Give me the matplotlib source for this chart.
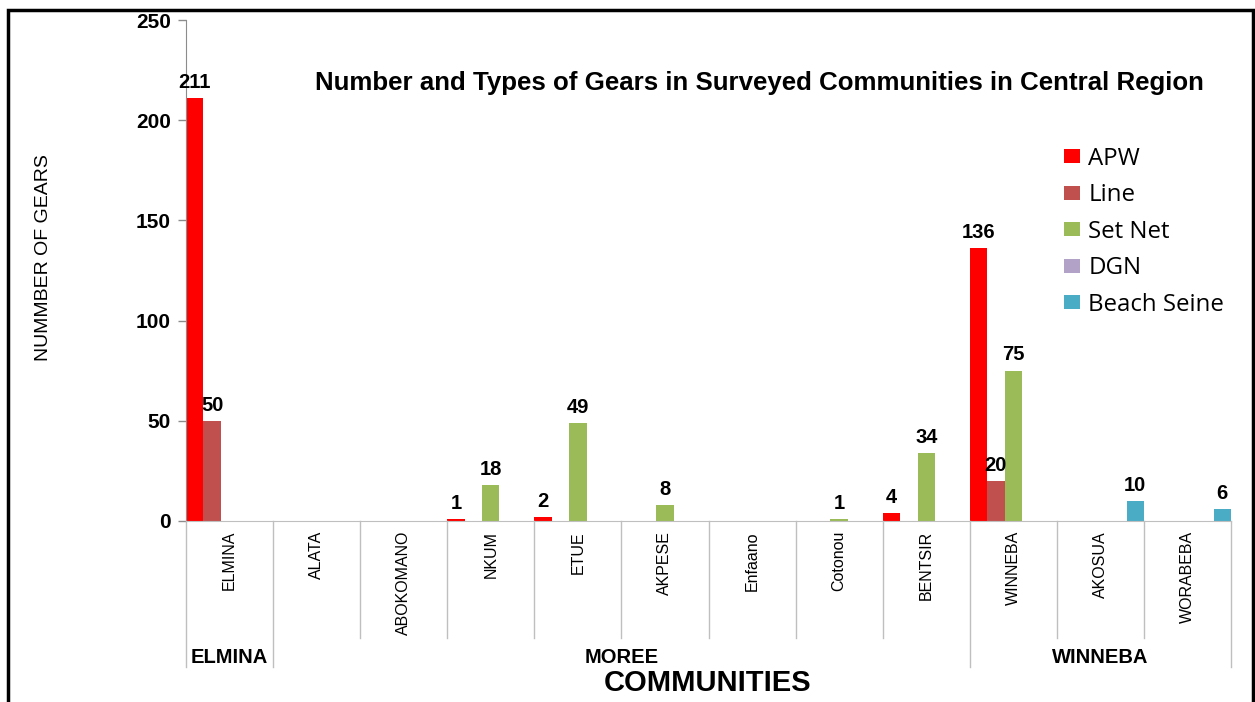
from matplotlib import pyplot as plt
from matplotlib.patches import Rectangle
from numpy import arange

# datos
communities = ['ELMINA', 'ALATA', 'ABOKOMANO', 'NKUM', 'ETUE', 'AKPESE',
               'Enfaano', 'Cotonou', 'BENTSIR', 'WINNEBA', 'AKOSUA', 'WORABEBA']
apw = [211, 0, 0, 1, 2, 0, 0, 0, 4, 136, 0, 0]
line = [50, 0, 0, 0, 0, 0, 0, 0, 0, 20, 0, 0]
set_net = [0, 0, 0, 18, 49, 8, 0, 1, 34, 75, 0, 0]
dgn = [0, 0, 0, 0, 0, 0, 0, 0, 0, 0, 0, 0]
beach_seine = [0, 0, 0, 0, 0, 0, 0, 0, 0, 0, 10, 6]
series_names = ['APW', 'Line', 'Set Net', 'DGN', 'Beach Seine']
colors = ['#FF0000', '#C0504D', '#9BBB59', '#B3A2C7', '#4BACC6']

groups = ['ELMINA', 'MOREE', 'WINNEBA']
group_bounds = [0, 1, 9, 12]

plt.rcParams['font.family'] = ['Liberation Sans', 'DejaVu Sans']

W, H = 1255, 702
fig = plt.figure(figsize=(W / 100, H / 100), dpi=100)
ax = fig.add_axes([186 / W, 1 - 521 / H, (1231 - 186) / W, (521 - 20) / H])

x = arange(len(communities))
width = 0.2
all_series = [apw, line, set_net, dgn, beach_seine]
for k, (vals, name, col) in enumerate(zip(all_series, series_names, colors)):
    pos = x + width * k + width / 2
    bars = ax.bar(pos, vals, width, color=col, label=name)
    for xp, v in zip(pos, vals):
        if v != 0:
            ax.annotate(str(v), (xp, v), xytext=(0, 4.5), textcoords='offset points',
                        ha='center', va='bottom', fontsize=14.5, fontweight='bold')

ax.set_xlim(0, 12)
ax.set_ylim(0, 250)
ax.set_yticks(arange(0, 251, 50))
ax.tick_params(axis='y', length=6, width=1, color='#8C8C8C', pad=5,
               labelsize=15)
for t in ax.get_yticklabels():
    t.set_fontweight('bold')
ax.set_xticks([])
for s in ['top', 'right']:
    ax.spines[s].set_visible(False)
ax.spines['left'].set_color('#8C8C8C')
ax.spines['bottom'].set_color('#BFBFBF')

# etiquetas de las comunidades en vertical
for i, c in enumerate(communities):
    ax.text(i + 0.5, -0.02, c, transform=ax.get_xaxis_transform(), rotation=90,
            ha='center', va='top', fontsize=11.5)

# lineas separadoras bajo el eje
trans = ax.get_xaxis_transform()
for i in range(13):
    low = -0.2914 if i in group_bounds else -0.2335
    ax.plot([i, i], [0, low], transform=trans, color='#BFBFBF', lw=1, clip_on=False)

for g, a, b in zip(groups, group_bounds[:-1], group_bounds[1:]):
    ax.text((a + b) / 2, -0.2715, g, transform=trans, ha='center', va='center',
            fontsize=14.5, fontweight='bold')

fig.text(708 / W, 1 - 683 / H, 'COMMUNITIES', ha='center', va='center',
         fontsize=21, fontweight='bold')
fig.text(44 / W, 1 - 258 / H, 'NUMMBER OF GEARS', rotation=90, ha='center',
         va='center', fontsize=14)
fig.text(759 / W, 1 - 83 / H,
         'Number and Types of Gears in Surveyed Communities in Central Region',
         ha='center', va='center', fontsize=18.6, fontweight='bold')

leg = ax.legend(loc='upper left', bbox_to_anchor=(1064 / W, 1 - 147 / H),
                bbox_transform=fig.transFigure, frameon=False, borderpad=0,
                borderaxespad=0, handlelength=0.66, handleheight=0.52,
                handletextpad=0.35, labelspacing=0.52,
                prop={'family': 'Open Sans', 'size': 17.3})

# marco exterior
fig.patches.append(Rectangle((8 / W, -0.01), (1253 - 8) / W, 1 - 10 / H + 0.01,
                             transform=fig.transFigure, fill=False,
                             edgecolor='black', lw=2.5))

plt.savefig('out.png', dpi=100)
